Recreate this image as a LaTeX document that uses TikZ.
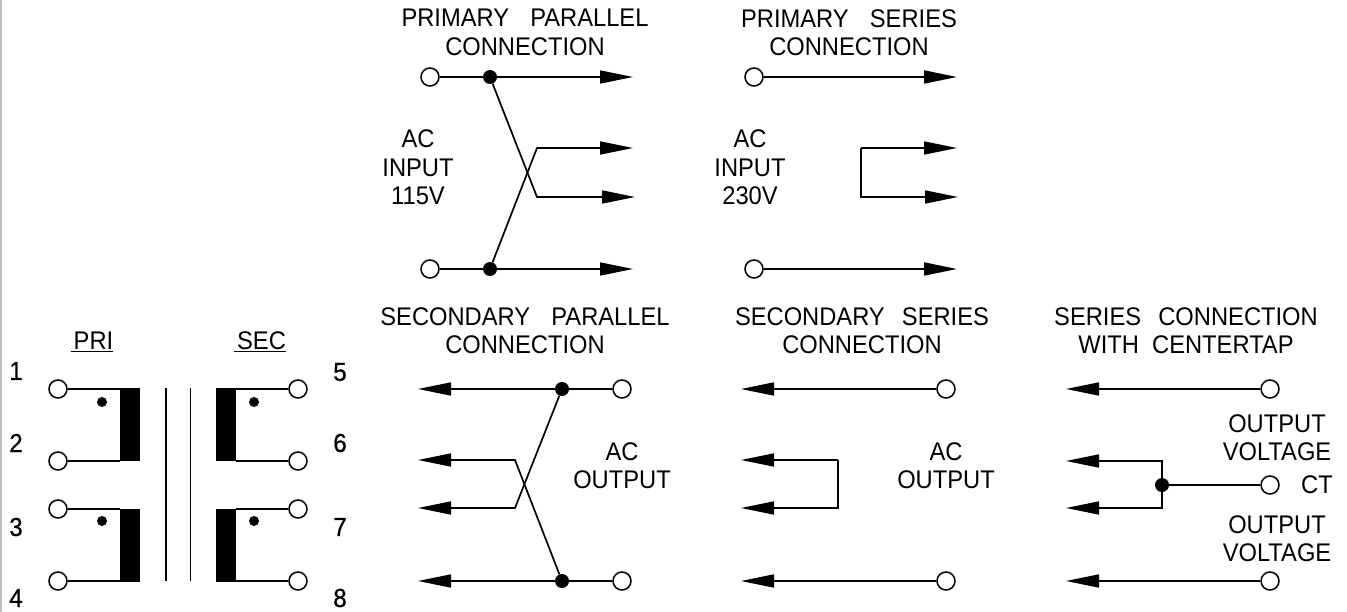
\documentclass[tikz,border=0pt]{standalone}
\usepackage{fontspec}
\setmainfont[FakeStretch=0.93]{Liberation Sans}
\usepackage{xcolor}
\usetikzlibrary{arrows.meta,shapes,positioning}
\definecolor{edgegrey}{RGB}{190,190,190}
\tikzstyle{terminal} = [circle, draw, fill=white, minimum size=18pt, inner sep=0pt, line width=1.5pt]
\tikzstyle{junction} = [circle, fill=black, minimum size=14pt, inner sep=0pt]
\tikzstyle{phasedot} = [circle, fill=black, minimum size=10pt, inner sep=0pt]
\tikzstyle{core} = [rectangle, fill=black, minimum width=20pt, minimum height=73pt, inner sep=0pt]
\tikzstyle{wire} = [line width=1.7pt]
\tikzstyle{arrow} = [wire, -{Triangle[length=33pt,width=13pt]}]
\tikzstyle{caption} = [font=\fontsize{25.5}{28.5}\selectfont, align=center, inner sep=0pt]
\tikzstyle{pinlabel} = [font=\fontsize{26}{28}\selectfont\addfontfeature{FakeBold=0.7}, inner sep=0pt]

\begin{document}
\begin{tikzpicture}[x=1pt,y=-1pt]
\useasboundingbox (0,0) rectangle (1347,612);
\fill[edgegrey] (0,0) rectangle (1.5,612);

% Transformer
\node[caption] (prititle) at (92,342) {\underline{\hspace{3pt}PRI}};
\node[caption] (sectitle) at (260,342) {\underline{\hspace{3pt}SEC}};
\node[core] (coreA) at (130,424.5) {};
\node[core] (coreB) at (130,545) {};
\node[core] (coreC) at (226,424.5) {};
\node[core] (coreD) at (226,545) {};
\node[terminal] (t1) at (58,389) {};
\node[terminal] (t2) at (58,461) {};
\node[terminal] (t3) at (58,509) {};
\node[terminal] (t4) at (58,581) {};
\node[terminal] (t5) at (298,389) {};
\node[terminal] (t6) at (298,461) {};
\node[terminal] (t7) at (298,509) {};
\node[terminal] (t8) at (298,581) {};
\node[phasedot] (dotA) at (102,402) {};
\node[phasedot] (dotB) at (102,521) {};
\node[phasedot] (dotC) at (254,402) {};
\node[phasedot] (dotD) at (254,521) {};
\node[pinlabel] (n1) at (16,371) {1};
\node[pinlabel] (n2) at (16,443) {2};
\node[pinlabel] (n3) at (16,527) {3};
\node[pinlabel] (n4) at (16,598) {4};
\node[pinlabel] (n5) at (340,372) {5};
\node[pinlabel] (n6) at (340,443) {6};
\node[pinlabel] (n7) at (340,527) {7};
\node[pinlabel] (n8) at (340,598) {8};
\coordinate (barAtop) at (166,388);
\coordinate (barAbot) at (166,581);
\coordinate (barBtop) at (190.5,388);
\coordinate (barBbot) at (190.5,581);
\draw[wire] (t1) -- (t1 -| coreA.west);
\draw[wire] (t2) -- (t2 -| coreA.west);
\draw[wire] (t3) -- (t3 -| coreB.west);
\draw[wire] (t4) -- (t4 -| coreB.west);
\draw[wire] (t5) -- (t5 -| coreC.east);
\draw[wire] (t6) -- (t6 -| coreC.east);
\draw[wire] (t7) -- (t7 -| coreD.east);
\draw[wire] (t8) -- (t8 -| coreD.east);
\draw[wire] (barAtop) -- (barAbot);
\draw[wire] (barBtop) -- (barBbot);

% Primary parallel
\node[caption] (pptitle) at (525,32.5) {PRIMARY\ \ \hspace{8pt}PARALLEL\\CONNECTION};
\node[caption] (ppinput) at (418,167.5) {AC\\INPUT\\115V};
\node[terminal] (ppa) at (430,77) {};
\node[terminal] (ppb) at (430,269) {};
\node[junction] (ppja) at (490,77) {};
\node[junction] (ppjb) at (490,269) {};
\coordinate (ppbenda) at (537,148);
\coordinate (ppbendb) at (537,197);
\coordinate (ppouta) at (633,77);
\coordinate (ppoutb) at (633,148);
\coordinate (ppoutc) at (635,197);
\coordinate (ppoutd) at (633,269);
\draw[wire] (ppa) -- (ppja);
\draw[wire] (ppb) -- (ppjb);
\draw[arrow] (ppja) -- (ppouta);
\draw[arrow] (ppjb) -- (ppoutd);
\draw[arrow] (ppja) -- (ppbendb) -- (ppoutc);
\draw[arrow] (ppjb) -- (ppbenda) -- (ppoutb);

% Primary series
\node[caption] (pstitle) at (849,32.5) {PRIMARY\ \ \hspace{8pt}SERIES\\CONNECTION};
\node[caption] (psinput) at (750,167.5) {AC\\INPUT\\230V};
\node[terminal] (psa) at (754,77) {};
\node[terminal] (psb) at (754,269) {};
\coordinate (psbenda) at (861,148);
\coordinate (psbendb) at (861,197);
\coordinate (psouta) at (957,77);
\coordinate (psoutb) at (957,148);
\coordinate (psoutc) at (958,197);
\coordinate (psoutd) at (957,269);
\draw[arrow] (psa) -- (psouta);
\draw[arrow] (psb) -- (psoutd);
\draw[arrow] (psbenda) -- (psoutb);
\draw[arrow] (psbenda) -- (psbendb) -- (psoutc);

% Secondary parallel
\node[caption] (sptitle) at (525,330.5) {SECONDARY\ \ \hspace{8pt}PARALLEL\\CONNECTION};
\node[caption] (spoutput) at (622,465.5) {AC\\OUTPUT};
\node[terminal] (spa) at (622,389) {};
\node[terminal] (spb) at (622,581) {};
\node[junction] (spja) at (562,389) {};
\node[junction] (spjb) at (562,581) {};
\coordinate (spbenda) at (515,460);
\coordinate (spbendb) at (515,508);
\coordinate (spouta) at (418,389);
\coordinate (spoutb) at (418,460);
\coordinate (spoutc) at (418,508);
\coordinate (spoutd) at (418,581);
\draw[wire] (spa) -- (spja);
\draw[wire] (spb) -- (spjb);
\draw[arrow] (spja) -- (spouta);
\draw[arrow] (spjb) -- (spoutd);
\draw[arrow] (spja) -- (spbendb) -- (spoutc);
\draw[arrow] (spjb) -- (spbenda) -- (spoutb);

% Secondary series
\node[caption] (sstitle) at (862,330.5) {SECONDARY\ \ \hspace{4pt}SERIES\\CONNECTION};
\node[caption] (ssoutput) at (946,465.5) {AC\\OUTPUT};
\node[terminal] (ssa) at (946,389) {};
\node[terminal] (ssb) at (946,581) {};
\coordinate (ssbenda) at (838,460);
\coordinate (ssbendb) at (838,508);
\coordinate (ssouta) at (741,389);
\coordinate (ssoutb) at (741,460);
\coordinate (ssoutc) at (741,508);
\coordinate (ssoutd) at (741,581);
\draw[arrow] (ssa) -- (ssouta);
\draw[arrow] (ssb) -- (ssoutd);
\draw[arrow] (ssbenda) -- (ssoutb);
\draw[arrow] (ssbenda) -- (ssbendb) -- (ssoutc);

% Series with centertap
\node[caption] (cttitle) at (1186,330.5) {SERIES\ \ \hspace{4pt}CONNECTION\\WITH\ \ CENTERTAP};
\node[caption] (ctvolta) at (1277,437.5) {OUTPUT\\VOLTAGE};
\node[caption] (ctvoltb) at (1277,538.5) {OUTPUT\\VOLTAGE};
\node[caption] (ctlabel) at (1317,485) {CT};
\node[terminal] (cta) at (1270,389) {};
\node[terminal] (ctb) at (1270,485) {};
\node[terminal] (ctc) at (1270,581) {};
\node[junction] (ctj) at (1162,485) {};
\coordinate (ctbenda) at (1162,461);
\coordinate (ctbendb) at (1162,508);
\coordinate (ctouta) at (1066,389);
\coordinate (ctoutb) at (1066,461);
\coordinate (ctoutc) at (1066,508);
\coordinate (ctoutd) at (1066,581);
\draw[wire] (ctb) -- (ctj);
\draw[arrow] (cta) -- (ctouta);
\draw[arrow] (ctc) -- (ctoutd);
\draw[arrow] (ctj) -- (ctbenda) -- (ctoutb);
\draw[arrow] (ctj) -- (ctbendb) -- (ctoutc);
\end{tikzpicture}
\end{document}
